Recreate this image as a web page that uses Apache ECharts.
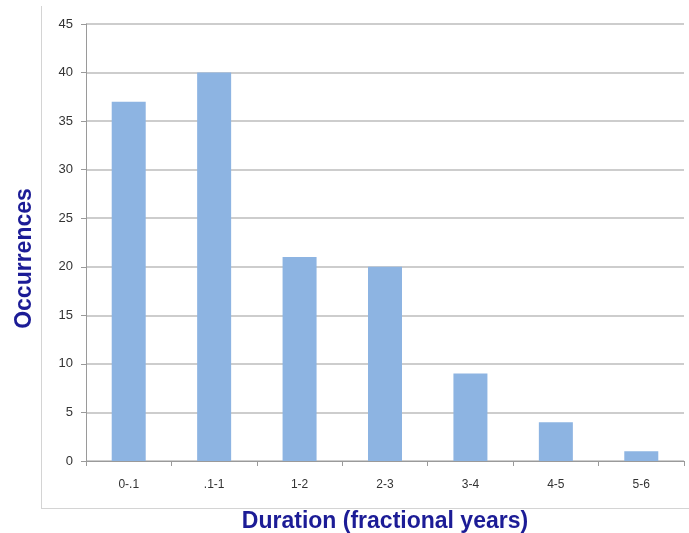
<!DOCTYPE html>
<html>
<head>
<meta charset="utf-8">
<script src="https://cdn.jsdelivr.net/npm/echarts@6/dist/echarts.min.js"></script>
<style>html,body{margin:0;padding:0;background:#fff;}#c{width:689px;height:533px;}</style>
</head>
<body>
<div id="c"></div>
<script>
const categories = ['0-.1', '.1-1', '1-2', '2-3', '3-4', '4-5', '5-6'];
const occurrences = [37, 40, 21, 20, 9, 4, 1];
const yMin = 0, yMax = 45, yStep = 5;
const xTitle = 'Duration (fractional years)';
const yTitle = 'Occurrences';

const chart = echarts.init(document.getElementById('c'), null, {renderer: 'canvas'});
chart.setOption({
  animation: false,
  backgroundColor: '#ffffff',
  grid: {left: 86, right: 5, top: 24, bottom: 72, containLabel: false, outerBoundsMode: 'none'},
  graphic: [
    {type: 'line', shape: {x1: 41.5, y1: 6, x2: 41.5, y2: 509}, style: {stroke: '#d4d4d4', lineWidth: 1}, silent: true},
    {type: 'line', shape: {x1: 41, y1: 508.5, x2: 689, y2: 508.5}, style: {stroke: '#d4d4d4', lineWidth: 1}, silent: true}
  ],
  xAxis: {
    type: 'category',
    data: categories,
    name: xTitle,
    nameLocation: 'middle',
    nameGap: 49,
    nameTextStyle: {fontFamily: 'Liberation Sans, Arial', fontWeight: 'bold', fontSize: 23, color: '#1c1c96'},
    axisLine: {lineStyle: {color: '#9a9a9a', width: 1}},
    axisTick: {show: true, alignWithLabel: false, length: 5, lineStyle: {color: '#9a9a9a'}},
    axisLabel: {fontFamily: 'Liberation Sans, Arial', fontSize: 12, color: '#333333', margin: 18},
    splitLine: {show: false}
  },
  yAxis: {
    type: 'value',
    min: yMin, max: yMax, interval: yStep,
    name: yTitle,
    nameLocation: 'middle',
    nameGap: 50,
    nameRotate: 90,
    nameTextStyle: {fontFamily: 'Liberation Sans, Arial', fontWeight: 'bold', fontSize: 23, color: '#1c1c96', padding: [0, 32, 0, 0]},
    axisLine: {show: true, lineStyle: {color: '#9a9a9a', width: 1}},
    axisTick: {show: true, length: 5, lineStyle: {color: '#9a9a9a'}},
    axisLabel: {fontFamily: 'Liberation Sans, Arial', fontSize: 13, color: '#333333', margin: 13},
    splitLine: {show: true, lineStyle: {color: '#bdbdbd', width: 1.5}}
  },
  series: [{
    type: 'bar',
    data: occurrences,
    barWidth: 34,
    itemStyle: {color: '#8db4e2'},
    silent: true
  }]
});
</script>
</body>
</html>
